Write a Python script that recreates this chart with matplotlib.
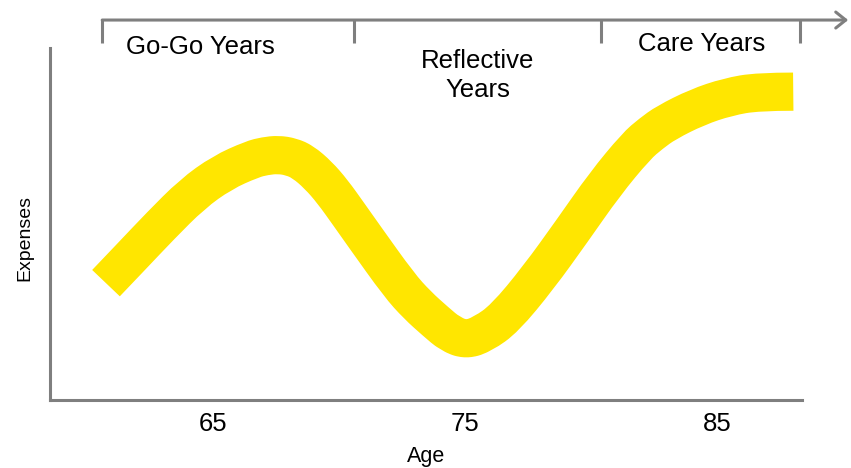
import matplotlib
matplotlib.use("Agg")
import matplotlib.pyplot as plt
from matplotlib.path import Path
from matplotlib.patches import PathPatch

plt.rcParams['font.family'] = ['Liberation Sans', 'DejaVu Sans']

# expense curve over age (relative scale 0-100)
age = [60.75, 61.83, 62.9, 64.17, 65.36, 66.55, 67.06, 67.58, 68.1, 68.57,
       69.17, 69.74, 70.38, 71.03, 72.38, 73.1, 73.83, 74.41, 75.04, 75.71,
       76.57, 77.9, 79.25, 80.54, 81.79, 82.38, 82.98, 84.21, 85.42, 86.63,
       88.02]
expenses = [33.2, 41.3, 49.4, 58.5, 64.6, 68.4, 69.3, 69.7, 69.1, 67.6,
            63.9, 59.2, 52.8, 46.2, 32.7, 27.0, 22.3, 18.8, 17.1, 18.8,
            23.2, 34.7, 48.1, 61.3, 72.1, 75.7, 78.8, 83.2, 86.1, 87.6,
            87.6]

tick_ages = [65, 75, 85]
tick_labels = ['65', '75', '85']

# retirement phases along the top bracket
phase_edges = [60.6, 70.6, 80.4, 88.3]
phase_names = ['Go-Go Years', 'Reflective\nYears', 'Care Years']
phase_label_x = [64.5, 75.5, 84.4]
phase_label_y = [1.003, 0.922, 1.011]
arrow_tip = 90.2

grey = '#7f7f7f'


def smooth_path(xs, ys):
    # quadratic B-spline: each sample is a control point, segments meet
    # halfway between neighbours so the stroke has no corners
    pts = list(zip(xs, ys))
    verts = [pts[0]]
    codes = [Path.MOVETO]
    for i in range(1, len(pts) - 1):
        nxt = pts[i + 1]
        if i < len(pts) - 2:
            nxt = ((pts[i][0] + nxt[0]) / 2, (pts[i][1] + nxt[1]) / 2)
        verts += [pts[i], nxt]
        codes += [Path.CURVE3, Path.CURVE3]
    return Path(verts, codes)


fig = plt.figure(figsize=(8.51, 4.68), dpi=100)
ax = fig.add_axes([0.0588, 0.1453, 0.8837, 0.7521])

ax.add_patch(PathPatch(smooth_path(age, expenses), fill=False,
                       edgecolor='#ffe600', lw=27.5, capstyle='butt',
                       joinstyle='round'))

ax.set_xlim(58.53, 88.37)
ax.set_ylim(0, 100)

for side in ['top', 'right']:
    ax.spines[side].set_visible(False)
for side in ['left', 'bottom']:
    ax.spines[side].set_color(grey)
    ax.spines[side].set_linewidth(2.2)

ax.set_xticks(tick_ages)
ax.set_xticklabels(tick_labels, fontsize=18.5)
ax.set_yticks([])
ax.tick_params(axis='x', length=0, pad=9)
ax.set_xlabel('Age', fontsize=15.5, labelpad=7)
ax.set_ylabel('Expenses', fontsize=14)
ax.yaxis.set_label_coords(-0.022, 0.46)

# bracket with arrow above the plot
trans = ax.get_xaxis_transform()
bar_y = 1.0795
ax.annotate('', xy=(arrow_tip, bar_y), xytext=(phase_edges[0], bar_y),
            xycoords=trans, textcoords=trans, annotation_clip=False,
            arrowprops=dict(arrowstyle='->,head_length=0.4,head_width=0.32',
                            mutation_scale=18, color=grey, lw=2.2,
                            shrinkA=0, shrinkB=0))
for edge in phase_edges:
    ax.plot([edge, edge], [bar_y, 1.014], transform=trans, color=grey,
            lw=2.2, clip_on=False, solid_capstyle='butt')

for name, x, y in zip(phase_names, phase_label_x, phase_label_y):
    ax.text(x, y, name, transform=trans, ha='center', va='center',
            fontsize=18.5, linespacing=1.25)

fig.savefig('out.png', dpi=100)
